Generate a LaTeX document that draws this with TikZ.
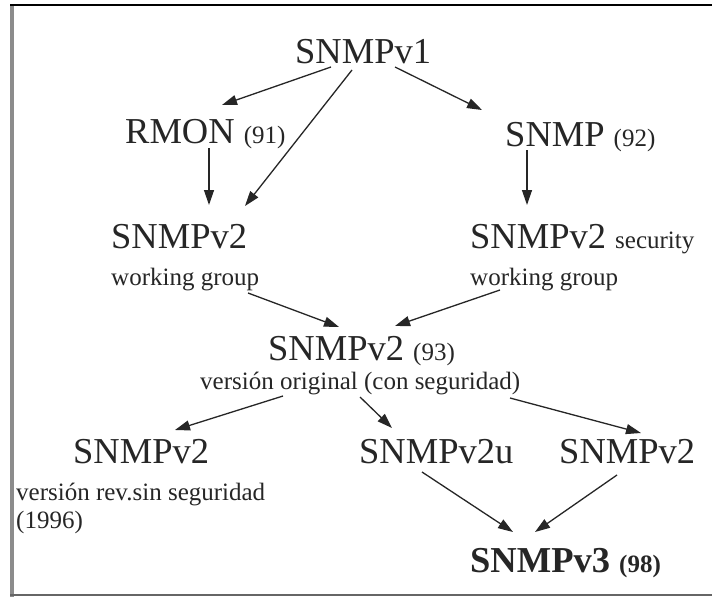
\documentclass[tikz,border=0pt]{standalone}
\usepackage{fontspec}
\setmainfont{Liberation Serif}
\usetikzlibrary{arrows.meta,calc}
\newcommand\smallyr[1]{{\fontsize{25}{28}\selectfont #1}}
\tikzset{
  big/.style={anchor=base west, inner sep=0pt, text=black!85, font=\fontsize{36.5}{40}\selectfont},
  small/.style={anchor=base west, inner sep=0pt, text=black!85, font=\fontsize{25}{28}\selectfont},
  arr/.style={line width=1.3pt, draw=black!85, -{Triangle[length=15pt,width=10pt]}},
}
\begin{document}
\begin{tikzpicture}[x=1pt,y=-1pt]
  \useasboundingbox (0,0) rectangle (712,597);
  \fill[white] (0,0) rectangle (712,597);
  % frame
  \draw[line width=4pt, black!45] (11.5,4) -- (11.5,597);
  \draw[line width=2.5pt, black!60] (10,595) -- (712,595);
  \draw[line width=2.5pt, black] (10,5) -- (712,5);

  % labels
  \node[big] (v1)   at (295,63)  {SNMPv1};
  \node[big] (rmon) at (125,143) {RMON \smallyr{(91)}};
  \node[big] (snmp) at (505,146) {SNMP \smallyr{(92)}};
  \node[big] (wg1)  at (111,248) {SNMPv2};
  \node[small] (wg1s) at (111,285) {working group};
  \node[big] (wg2)  at (470,248) {SNMPv2 \smallyr{security}};
  \node[small] (wg2s) at (470,285) {working group};
  \node[big] (v2)   at (268,360) {SNMPv2 \smallyr{(93)}};
  \node[small] (v2s) at (200,389) {versión original (con seguridad)};
  \node[big] (b1)   at (73,463)  {SNMPv2};
  \node[small] (b1s) at (16,500) {versión rev.sin seguridad};
  \node[small] (b1y) at (16,528) {(1996)};
  \node[big] (v2u)  at (359,463) {SNMPv2u};
  \node[big] (b3)   at (559,463) {SNMPv2};
  \node[big] (v3)   at (470,572) {\textbf{SNMPv3} \smallyr{\textbf{(98)}}};

  % derivations
  \draw[arr] ($(v1.base west)+(36,4)$)   -- ($(rmon.base west)+(97,-38)$);
  \draw[arr] ($(v1.base west)+(57,7)$)   -- ($(wg1.base west)+(134,-42)$);
  \draw[arr] ($(v1.base west)+(100,4)$)  -- ($(snmp.base west)+(-23,-36)$);
  \draw[arr] ($(rmon.base west)+(84,5)$) -- ($(wg1.base west)+(98,-43)$);
  \draw[arr] ($(snmp.base west)+(22,4)$) -- ($(wg2.base west)+(57,-43)$);
  \draw[arr] ($(wg1s.base west)+(137,8)$) -- ($(v2.base west)+(71,-33)$);
  \draw[arr] ($(wg2s.base west)+(30,5)$)  -- ($(v2.base west)+(127,-34)$);
  \draw[arr] ($(v2s.base west)+(83,7)$)   -- ($(b1.base west)+(102,-33)$);
  \draw[arr] ($(v2s.base west)+(160,8)$)  -- ($(v2u.base west)+(33,-35)$);
  \draw[arr] ($(v2s.base west)+(310,9)$)  -- ($(b3.base west)+(82,-30)$);
  \draw[arr] ($(v2u.base west)+(63,9)$)   -- ($(v3.base west)+(43,-40)$);
  \draw[arr] ($(b3.base west)+(58,12)$)   -- ($(v3.base west)+(65,-40)$);
\end{tikzpicture}
\end{document}
